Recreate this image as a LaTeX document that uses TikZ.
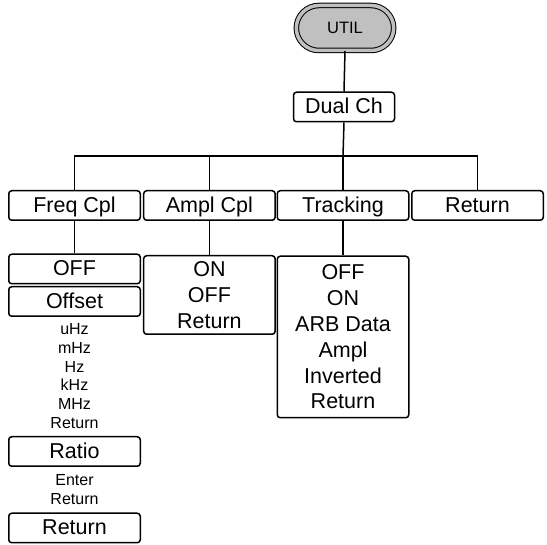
\documentclass[tikz,border=0pt]{standalone}
\usepackage{fontspec}
\setmainfont{Liberation Sans}
\usetikzlibrary{positioning,shapes.misc}
\definecolor{utilGray}{RGB}{192,192,192}
\definecolor{lineBlack}{RGB}{0,0,0}
\tikzset{
  keybox/.style={draw=lineBlack, line width=1.5pt, rounded corners=3pt,
    minimum width=131.5pt, minimum height=29.5pt, inner sep=0pt, align=center,
    font=\fontsize{21.5}{25.8}\selectfont},
  onekey/.style={keybox, text height=16pt, text depth=2pt},
  listbox/.style={keybox, minimum height=#1},
  subtext/.style={align=center, inner sep=0pt, font=\fontsize{16}{18.8}\selectfont},
  utilkey/.style={rounded rectangle, draw=lineBlack, fill=utilGray, double=utilGray,
    double distance=3.5pt, line width=1pt, minimum width=104pt, minimum height=45pt,
    font=\fontsize{16.5}{19}\selectfont},
  conn/.style={line width=1.5pt, color=lineBlack},
}
\begin{document}
\begin{tikzpicture}[x=1pt, y=-1pt]
\useasboundingbox (0,0) rectangle (547,545);

%% TOP
\node[utilkey] (util) at (345,28) {UTIL};
\node[onekey, minimum width=101pt] (dual) at (344,107) {Dual Ch};
\coordinate (bar) at (343,156);

%% LEVEL 1
\node[onekey] (freq) at (74.5,205.5) {Freq Cpl};
\node[onekey] (ampl) at (209.4,205.5) {Ampl Cpl};
\node[onekey] (track) at (343,205.5) {Tracking};
\node[onekey] (ret) at (477.5,205.5) {Return};

%% FREQ CPL
\node[onekey] (foff) at (74.5,269) {OFF};
\node[onekey, below=1.5pt of foff] (offset) {Offset};
\node[subtext] (units) at (74.5,376) {uHz\\mHz\\Hz\\kHz\\MHz\\Return};
\node[onekey] (ratio) at (74.5,451.5) {Ratio};
\node[subtext] (enter) at (74.5,489.5) {Enter\\Return};
\node[onekey] (fret) at (74.5,528) {Return};

%% AMPL CPL / TRACKING
\node[listbox=78.5pt] (amplist) at (209.4,295) {ON\\OFF\\Return};
\node[listbox=161.5pt] (tracklist) at (343,337)
  {OFF\\ON\\ARB Data\\Ampl\\Inverted\\Return};

%% CONNECTORS
\draw[conn] (util.south) -- (dual.north);
\draw[conn] (dual.south) -- (bar);
\draw[conn] (freq.north) |- (bar) -| (ret.north);
\draw[conn] (ampl.north) -- (ampl.north |- bar);
\draw[conn] (track.north) -- (track.north |- bar);
\draw[conn] (freq.south) -- (foff.north);
\draw[conn] (ampl.south) -- (amplist.north);
\draw[conn] (track.south) -- (tracklist.north);

\end{tikzpicture}
\end{document}
